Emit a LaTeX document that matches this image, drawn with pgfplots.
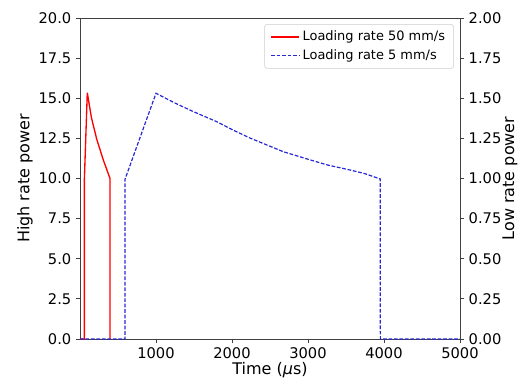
\documentclass[border=0pt]{standalone}
\usepackage{pgfplots}
\pgfplotsset{compat=1.18}
\usepackage{fontspec}
\setmainfont{DejaVu Sans}
\definecolor{mred}{RGB}{255,0,0}
\definecolor{mblue}{RGB}{40,40,215}
\begin{document}
\begin{tikzpicture}
\pgfplotsset{
  every axis/.append style={
    width=285pt, height=240.75pt, scale only axis,
    xmin=0, xmax=5000,
    axis line style={black!75, line width=0.6pt},
    every tick/.style={black!75, line width=0.6pt},
    tick align=outside, major tick length=3pt,
    tick label style={font=\fontsize{11}{13}\selectfont},
    label style={font=\fontsize{12}{14}\selectfont},
    /pgf/number format/assume math mode=true,
  },
}
\begin{axis}[
  at={(0,0)}, anchor=south west,
  ymin=0, ymax=20, ytick={0,2.5,...,20},
  xtick={1000,2000,3000,4000,5000},
  xtick pos=bottom, ytick pos=left,
  yticklabel style={/pgf/number format/.cd, fixed, fixed zerofill, precision=1},
  xticklabel style={/pgf/number format/.cd, set thousands separator={}},
  xlabel={Time (\textit{μ}s)},
  ylabel={High rate power},
  xlabel style={at={(axis description cs:0.5,-0.0966)}, anchor=center},
  ylabel style={at={(axis description cs:-0.1447,0.5)}, anchor=center},
]
\addplot[mred, line width=1.0pt] coordinates {
  (0,0) (57,0) (58,10) (96,15.35) (150,13.8) (220,12.45) (307,11.15) (395,10.0) (395,0)
};
\end{axis}
\begin{axis}[
  at={(0,0)}, anchor=south west,
  axis x line=none, axis y line*=right,
  ymin=0, ymax=2, ytick={0,0.25,...,2},
  yticklabel style={/pgf/number format/.cd, fixed, fixed zerofill, precision=2},
  legend style={at={(0.984,0.981)}, anchor=north east,
    font=\fontsize{9.7}{11}\selectfont,
    draw=black!20, rounded corners=2pt, fill=white,
    inner xsep=4.5pt, inner ysep=3pt, row sep=1.3pt},
  legend cell align=left,
  legend image code/.code={\draw[#1] (0pt,0pt) -- (21pt,0pt);},
]
\addlegendimage{mred, line width=1.0pt}
\addlegendentry{Loading rate 50 mm/s}
\addplot[mblue, line width=0.9pt, dash pattern=on 2.8pt off 1.3pt] coordinates {
  (0,0) (592,0) (592,0.995) (1000,1.531) (1250,1.47) (1500,1.415) (1800,1.354)
  (2000,1.305) (2237,1.252) (2675,1.167) (3000,1.12) (3250,1.085) (3553,1.053)
  (3750,1.03) (3950,0.997) (3952,0) (5000,0)
};
\addlegendentry{Loading rate 5 mm/s}
\end{axis}
\node[rotate=90, anchor=center, font=\fontsize{12}{14}\selectfont]
  at (322.5pt,120.375pt) {Low rate power};
\path (-60pt,-36pt) rectangle (332.25pt,254.25pt);
\end{tikzpicture}
\end{document}
